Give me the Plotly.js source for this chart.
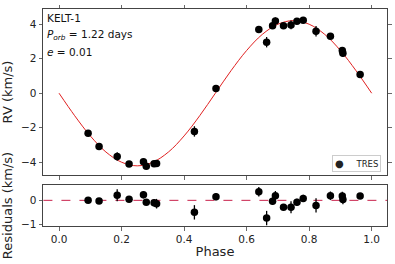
<!DOCTYPE html>
<html>
<head>
<meta charset="utf-8">
<script src="https://cdn.plot.ly/plotly-3.0.1.min.js"></script>
<style>html,body{margin:0;padding:0;background:#fff;}#chart{width:395px;height:264px;}</style>
</head>
<body>
<div id="chart"></div>
<script>
// Observed TRES radial velocities (phase-folded)
const phase = [0.093, 0.128, 0.186, 0.224, 0.270, 0.279, 0.304, 0.312, 0.433, 0.502,
               0.639, 0.664, 0.683, 0.692, 0.718, 0.742, 0.761, 0.781, 0.822, 0.868,
               0.906, 0.908, 0.963];
const rv = [-2.31, -3.08, -3.66, -4.10, -3.97, -4.22, -4.08, -4.06, -2.21, 0.27,
            3.68, 2.95, 3.90, 4.18, 3.90, 3.95, 4.16, 4.22, 3.58, 3.29,
            2.47, 2.31, 1.08];
const rvErr = [0.10, 0.12, 0.25, 0.10, 0.15, 0.10, 0.15, 0.20, 0.30, 0.15,
               0.20, 0.30, 0.15, 0.20, 0.12, 0.25, 0.15, 0.15, 0.30, 0.18,
               0.18, 0.20, 0.12];
const resid = [0.00, -0.03, 0.21, 0.05, 0.23, -0.08, -0.10, -0.14, -0.50, 0.15,
               0.36, -0.74, -0.04, 0.19, -0.29, -0.29, -0.08, 0.08, -0.21, 0.19,
               0.18, 0.04, 0.18];
// Orbital model curve
const modelPhase = [0.00, 0.05, 0.10, 0.15, 0.20, 0.25, 0.30, 0.35, 0.40, 0.45, 0.50,
                    0.55, 0.60, 0.65, 0.70, 0.75, 0.80, 0.85, 0.90, 0.95, 1.00];
const modelRV = [0.00, -1.30, -2.47, -3.40, -3.99, -4.20, -3.99, -3.40, -2.47, -1.30, 0.00,
                 1.30, 2.47, 3.40, 3.99, 4.20, 3.99, 3.40, 2.47, 1.30, 0.00];
const zeroLineX = [-0.05, 1.05];
const zeroLineY = [0, 0];
const xTicks = [0.0, 0.2, 0.4, 0.6, 0.8, 1.0];
const xTickText = ['0.0', '0.2', '0.4', '0.6', '0.8', '1.0'];
const rvTicks = [-4, -2, 0, 2, 4];
const rvTickText = ['\u22124', '\u22122', '0', '2', '4'];
const resTicks = [-1, 0];
const resTickText = ['\u22121', '0'];
const seriesName = 'TRES';

const F = 'DejaVu Sans, sans-serif';
const axisCommon = {
  showgrid: false, zeroline: false, showline: true, linecolor: '#444', linewidth: 1,
  ticks: 'outside', ticklen: 3.5, tickwidth: 0.8, tickcolor: '#444',
  tickfont: {family: F, size: 10.5, color: '#222'}
};

const traces = [
  {x: modelPhase, y: modelRV, type: 'scatter', mode: 'lines', line: {color: '#e02020', width: 1, shape: 'spline'},
   xaxis: 'x2', yaxis: 'y', showlegend: false, hoverinfo: 'skip'},
  {x: phase, y: rv, type: 'scatter', mode: 'markers', name: seriesName,
   marker: {color: '#000', size: 7.5},
   error_y: {type: 'data', array: rvErr, visible: true, color: '#000', thickness: 1.3, width: 0},
   xaxis: 'x2', yaxis: 'y'},
  {x: zeroLineX, y: zeroLineY, type: 'scatter', mode: 'lines', line: {color: '#c8204a', width: 1, dash: 'dash'},
   xaxis: 'x', yaxis: 'y2', showlegend: false, hoverinfo: 'skip'},
  {x: phase, y: resid, type: 'scatter', mode: 'markers', showlegend: false,
   marker: {color: '#000', size: 7.5},
   error_y: {type: 'data', array: rvErr, visible: true, color: '#000', thickness: 1.3, width: 0},
   xaxis: 'x', yaxis: 'y2'}
];

const layout = {
  width: 395, height: 264,
  margin: {l: 43, r: 8, t: 9, b: 38},
  paper_bgcolor: '#fff', plot_bgcolor: '#fff',
  font: {family: F, color: '#222'},
  showlegend: false,
  xaxis: Object.assign({}, axisCommon, {
    domain: [0, 1], anchor: 'y2', range: [-0.0513, 1.049],
    tickvals: xTicks, ticktext: xTickText, mirror: true,
    title: {text: 'Phase', font: {family: F, size: 13, color: '#222'}, standoff: 2}
  }),
  xaxis2: Object.assign({}, axisCommon, {
    domain: [0, 1], anchor: 'y', range: [-0.0513, 1.049], matches: 'x',
    tickvals: xTicks, showticklabels: false, mirror: 'allticks'
  }),
  yaxis: Object.assign({}, axisCommon, {
    domain: [0.235, 1], anchor: 'x2', range: [-4.73, 4.87],
    tickvals: rvTicks, ticktext: rvTickText, mirror: 'allticks',
    title: {text: 'RV (km/s)', font: {family: F, size: 13, color: '#222'}, standoff: 6}
  }),
  yaxis2: Object.assign({}, axisCommon, {
    domain: [0, 0.189], anchor: 'x', range: [-1.07, 0.64],
    tickvals: resTicks, ticktext: resTickText, mirror: true,
    title: {text: 'Residuals (km/s)', font: {family: F, size: 13, color: '#222'}, standoff: 10}
  }),
  annotations: [
    {xref: 'paper', yref: 'paper', x: 0.006, y: 0.995, xanchor: 'left', yanchor: 'top', showarrow: false,
     text: 'KELT-1', font: {family: F, size: 10.5, color: '#111'}},
    {xref: 'paper', yref: 'paper', x: 0.006, y: 0.92, xanchor: 'left', yanchor: 'top', showarrow: false,
     text: '<i>P</i><sub><i>orb</i></sub> = 1.22 days', font: {family: F, size: 10.5, color: '#111'}},
    {xref: 'paper', yref: 'paper', x: 0.006, y: 0.84, xanchor: 'left', yanchor: 'top', showarrow: false,
     text: '<i>e</i> = 0.01', font: {family: F, size: 10.5, color: '#111'}},
    // legend box
    {xref: 'paper', yref: 'paper', x: 0.983, y: 0.286, xanchor: 'right', yanchor: 'middle', showarrow: false,
     text: '<span style="font-size:10px">\u25CF</span>\u2003\u2002' + seriesName,
     font: {family: F, size: 8.5, color: '#222'},
     bgcolor: '#fff', bordercolor: '#ccc', borderwidth: 1, borderpad: 2}
  ]
};

Plotly.newPlot('chart', traces, layout, {staticPlot: true, displayModeBar: false});
</script>
</body>
</html>
